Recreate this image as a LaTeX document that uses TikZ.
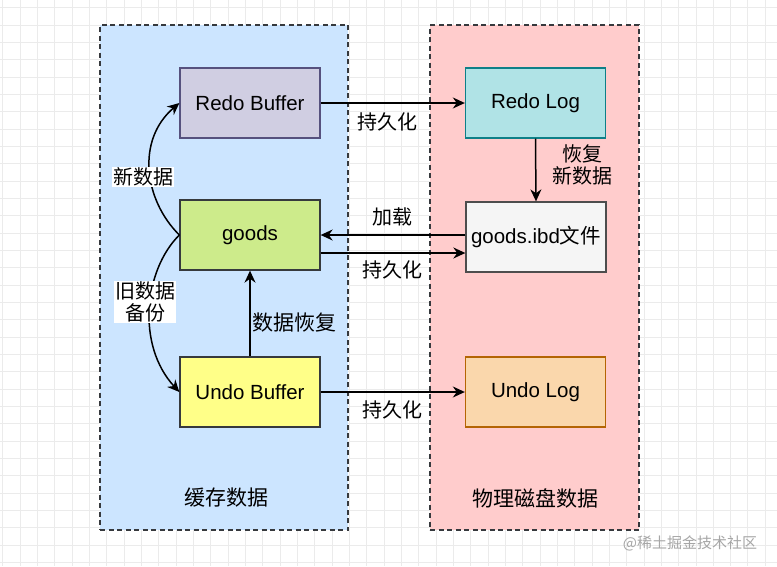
\documentclass[tikz,border=0pt]{standalone}
\usepackage{fontspec}
\setmainfont{Liberation Sans}
\newfontfamily\cjk{Noto Sans CJK SC}
\usetikzlibrary{arrows.meta,calc}
\definecolor{gridc}{HTML}{EBEBEB}
\definecolor{leftbg}{HTML}{CCE5FF}
\definecolor{rightbg}{HTML}{FFCCCC}
\definecolor{contb}{HTML}{36393D}
\definecolor{rbfill}{HTML}{D0CEE2}
\definecolor{rbdraw}{HTML}{56517E}
\definecolor{gfill}{HTML}{CDEB8B}
\definecolor{ubfill}{HTML}{FFFF88}
\definecolor{rlfill}{HTML}{B0E3E6}
\definecolor{rldraw}{HTML}{0E8088}
\definecolor{ibdfill}{HTML}{F5F5F5}
\definecolor{ibddraw}{HTML}{4D4D4D}
\definecolor{ulfill}{HTML}{FAD7AC}
\definecolor{uldraw}{HTML}{B46504}
\tikzset{
  box/.style={draw, line width=1.3pt, minimum width=140pt, minimum height=70pt, inner sep=0pt, font=\fontsize{20.5}{24}\selectfont},
  container/.style={draw=contb, line width=1.2pt, dash pattern=on 5pt off 3.5pt},
  conn/.style={line width=1.5pt, -{Stealth[length=12pt,width=11pt]}},
  lbl/.style={font=\cjk\fontsize{20}{22}\selectfont, align=center, inner sep=1pt},
  wlbl/.style={lbl, fill=white},
}
\begin{document}
\begin{tikzpicture}[x=1pt,y=-1pt]
\useasboundingbox (0,0) rectangle (777,566);
\fill[white] (0,0) rectangle (777,566);
% grid
\foreach \i in {0,...,45} {
  \draw[gridc, line width=0.8pt] ({2.7+17.33*\i},0) -- ({2.7+17.33*\i},566);
}
\foreach \j in {0,...,33} {
  \draw[gridc, line width=0.8pt] (0,{7.7+17.33*\j}) -- (777,{7.7+17.33*\j});
}
% containers
\node[container, fill=leftbg, minimum width=248pt, minimum height=505pt, inner sep=0pt] (cache) at (224,277.5) {};
\node[container, fill=rightbg, minimum width=209pt, minimum height=505pt, inner sep=0pt] (disk) at (534.5,277.5) {};
\node[lbl, font=\cjk\fontsize{21}{24}\selectfont] (cachel) at (226,498) {缓存数据};
\node[lbl, font=\cjk\fontsize{21}{24}\selectfont] (diskl) at (535,498) {物理磁盘数据};
% boxes
\node[box, fill=rbfill, draw=rbdraw] (rb) at (250,103) {Redo Buffer};
\node[box, fill=gfill, draw=contb] (goods) at (250,235) {goods};
\node[box, fill=ubfill, draw=contb] (ub) at (250,392) {Undo Buffer};
\node[box, fill=rlfill, draw=rldraw] (rl) at (535.5,103) {Redo Log};
\node[box, fill=ibdfill, draw=ibddraw] (ibd) at (536,237) {goods.ibd{\cjk 文件}};
\node[box, fill=ulfill, draw=uldraw] (ul) at (535.5,392) {Undo Log};
% connectors
\draw[conn] (rb.east) -- (rl.west);
\draw[conn] (rl.south) -- (ibd.north);
\draw[conn] (ibd.west |- goods.east) -- (goods.east);
\coordinate (gout) at ([yshift=-18pt]goods.east);
\draw[conn] (gout) -- (gout -| ibd.west);
\draw[conn] (ub.east) -- (ul.west);
\draw[conn] (ub.north) -- (goods.south);
\draw[conn] (goods.west) .. controls (144,200) and (136,140) .. (rb.west);
\draw[conn] (goods.west) .. controls (144,270) and (136,345) .. (ub.west);
% labels
\node[lbl] (l1) at (387,122) {持久化};
\node[lbl] (l2) at (582,165) {恢复\\新数据};
\node[lbl] (l3) at (392,217) {加载};
\node[lbl] (l4) at (392,270) {持久化};
\node[lbl] (l5) at (392,410) {持久化};
\node[lbl, font=\cjk\fontsize{21}{24}\selectfont] (l6) at (294,323) {数据恢复};
\node[wlbl] (l7) at (143,177) {新数据};
\node[wlbl] (l8) at (145,302) {旧数据\\备份};
\node[font=\cjk\fontsize{15}{18}\selectfont, text=black!35] (wm) at (690,543) {@稀土掘金技术社区};
\end{tikzpicture}
\end{document}
